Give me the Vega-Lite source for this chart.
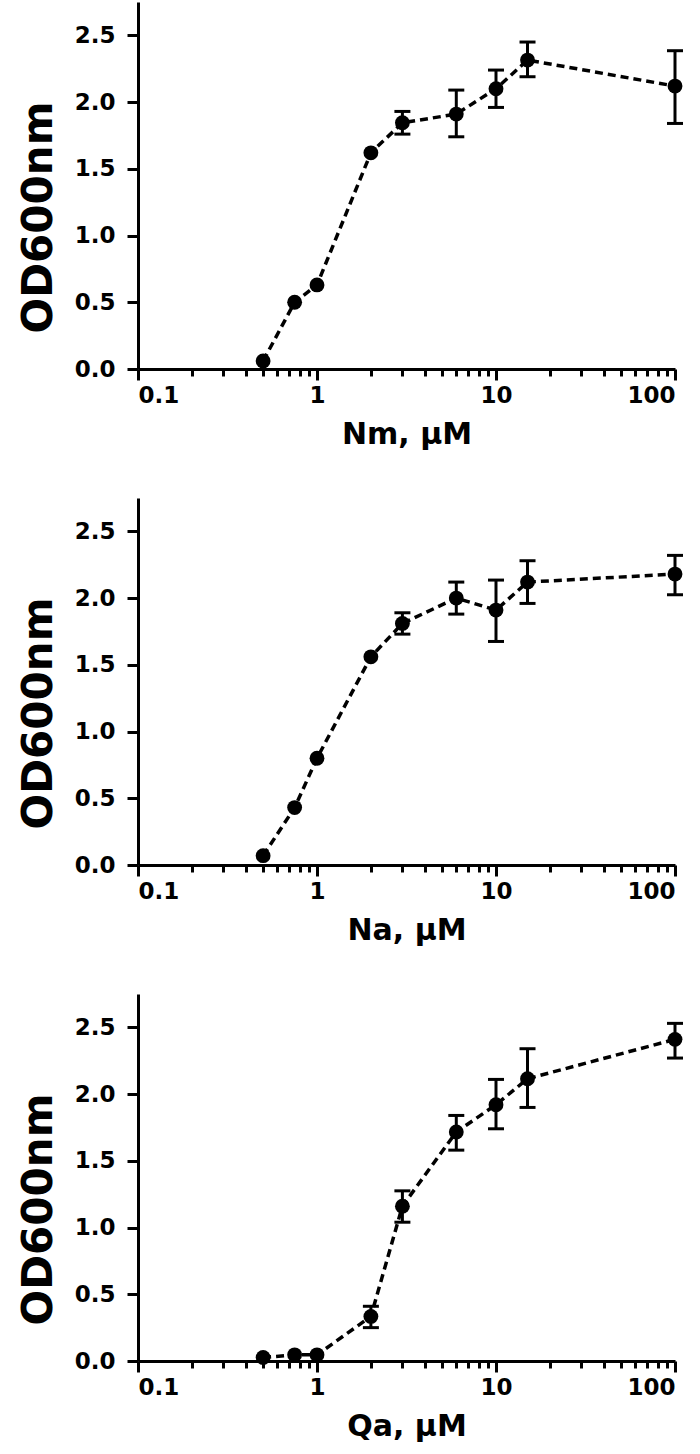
{
  "$schema": "https://vega.github.io/schema/vega-lite/v6.json",
  "padding": {"left": 17, "top": 2, "right": 20, "bottom": 5},
  "background": "white",
  "spacing": 49,
  "config": {
    "view": {"stroke": null},
    "font": "DejaVu Sans",
    "axis": {
      "domainColor": "black", "domainWidth": 3, "tickColor": "black", "tickWidth": 3,
      "labelFont": "DejaVu Sans", "labelFontWeight": "bold", "labelFontSize": 23, "labelColor": "black",
      "titleFont": "DejaVu Sans", "titleFontWeight": "bold", "titleColor": "black",
      "grid": false
    }
  },
  "datasets": {
    "d": [
      {"panel": "Nm", "conc": 0.5, "od": 0.06},
      {"panel": "Nm", "conc": 0.75, "od": 0.50},
      {"panel": "Nm", "conc": 1, "od": 0.63},
      {"panel": "Nm", "conc": 2, "od": 1.62},
      {"panel": "Nm", "conc": 3, "od": 1.845, "lo": 1.76, "hi": 1.93},
      {"panel": "Nm", "conc": 6, "od": 1.91, "lo": 1.74, "hi": 2.09},
      {"panel": "Nm", "conc": 10, "od": 2.10, "lo": 1.96, "hi": 2.24},
      {"panel": "Nm", "conc": 15, "od": 2.315, "lo": 2.19, "hi": 2.45},
      {"panel": "Nm", "conc": 100, "od": 2.12, "lo": 1.84, "hi": 2.385},
      {"panel": "Na", "conc": 0.5, "od": 0.07},
      {"panel": "Na", "conc": 0.75, "od": 0.43},
      {"panel": "Na", "conc": 1, "od": 0.80},
      {"panel": "Na", "conc": 2, "od": 1.56},
      {"panel": "Na", "conc": 3, "od": 1.81, "lo": 1.73, "hi": 1.89},
      {"panel": "Na", "conc": 6, "od": 2.00, "lo": 1.88, "hi": 2.12},
      {"panel": "Na", "conc": 10, "od": 1.91, "lo": 1.675, "hi": 2.135},
      {"panel": "Na", "conc": 15, "od": 2.12, "lo": 1.96, "hi": 2.28},
      {"panel": "Na", "conc": 100, "od": 2.18, "lo": 2.025, "hi": 2.32},
      {"panel": "Qa", "conc": 0.5, "od": 0.026},
      {"panel": "Qa", "conc": 0.75, "od": 0.046},
      {"panel": "Qa", "conc": 1, "od": 0.046},
      {"panel": "Qa", "conc": 2, "od": 0.334, "lo": 0.25, "hi": 0.41},
      {"panel": "Qa", "conc": 3, "od": 1.16, "lo": 1.04, "hi": 1.275},
      {"panel": "Qa", "conc": 6, "od": 1.716, "lo": 1.58, "hi": 1.84},
      {"panel": "Qa", "conc": 10, "od": 1.92, "lo": 1.74, "hi": 2.11},
      {"panel": "Qa", "conc": 15, "od": 2.115, "lo": 1.90, "hi": 2.34},
      {"panel": "Qa", "conc": 100, "od": 2.41, "lo": 2.27, "hi": 2.53}
    ]
  },
  "vconcat": [
    {
      "width": 537, "height": 367,
      "data": {"name": "d"},
      "transform": [{"filter": "datum.panel == 'Nm'"}],
      "encoding": {
        "x": {"field": "conc", "type": "quantitative",
          "scale": {"type": "log", "domain": [0.1, 100], "nice": false},
          "axis": {"title": "Nm, µM", "titleFontSize": 30, "titlePadding": 12, "format": "~g", "labelOverlap": false, "labelPadding": 4,
            "values": [0.1,0.2,0.3,0.4,0.5,0.6,0.7,0.8,0.9,1,2,3,4,5,6,7,8,9,10,20,30,40,50,60,70,80,90,100],
            "labelExpr": "(datum.value == 0.1 || datum.value == 1 || datum.value == 10 || datum.value == 100) ? datum.label : ''",
            "tickSize": {"condition": {"test": "datum.value == 0.1 || datum.value == 1 || datum.value == 10 || datum.value == 100", "value": 11}, "value": 7}}}
      },
      "layer": [
        {"mark": {"type": "line", "color": "black", "strokeWidth": 3.5, "strokeDash": [8, 5]},
         "encoding": {"y": {"field": "od", "type": "quantitative", "scale": {"domain": [0, 2.75], "nice": false},
           "axis": {"title": "OD600nm", "titleFontSize": 42, "titlePadding": 14, "titleY": 215, "values": [0, 0.5, 1, 1.5, 2, 2.5], "format": ".1f", "tickSize": 11, "labelPadding": 12}}}},
        {"transform": [{"filter": "isValid(datum.lo)"}],
         "mark": {"type": "rule", "color": "black", "strokeWidth": 3},
         "encoding": {"y": {"field": "lo", "type": "quantitative"}, "y2": {"field": "hi"}}},
        {"transform": [{"filter": "isValid(datum.lo)"}],
         "mark": {"type": "tick", "orient": "horizontal", "color": "black", "size": 16, "thickness": 3, "opacity": 1},
         "encoding": {"y": {"field": "lo", "type": "quantitative"}}},
        {"transform": [{"filter": "isValid(datum.lo)"}],
         "mark": {"type": "tick", "orient": "horizontal", "color": "black", "size": 16, "thickness": 3, "opacity": 1},
         "encoding": {"y": {"field": "hi", "type": "quantitative"}}},
        {"mark": {"type": "point", "filled": true, "color": "black", "size": 220, "opacity": 1},
         "encoding": {"y": {"field": "od", "type": "quantitative"}}}
      ]
    },
    {
      "width": 537, "height": 367,
      "data": {"name": "d"},
      "transform": [{"filter": "datum.panel == 'Na'"}],
      "encoding": {
        "x": {"field": "conc", "type": "quantitative",
          "scale": {"type": "log", "domain": [0.1, 100], "nice": false},
          "axis": {"title": "Na, µM", "titleFontSize": 30, "titlePadding": 12, "format": "~g", "labelOverlap": false, "labelPadding": 4,
            "values": [0.1,0.2,0.3,0.4,0.5,0.6,0.7,0.8,0.9,1,2,3,4,5,6,7,8,9,10,20,30,40,50,60,70,80,90,100],
            "labelExpr": "(datum.value == 0.1 || datum.value == 1 || datum.value == 10 || datum.value == 100) ? datum.label : ''",
            "tickSize": {"condition": {"test": "datum.value == 0.1 || datum.value == 1 || datum.value == 10 || datum.value == 100", "value": 11}, "value": 7}}}
      },
      "layer": [
        {"mark": {"type": "line", "color": "black", "strokeWidth": 3.5, "strokeDash": [8, 5]},
         "encoding": {"y": {"field": "od", "type": "quantitative", "scale": {"domain": [0, 2.75], "nice": false},
           "axis": {"title": "OD600nm", "titleFontSize": 42, "titlePadding": 14, "titleY": 215, "values": [0, 0.5, 1, 1.5, 2, 2.5], "format": ".1f", "tickSize": 11, "labelPadding": 12}}}},
        {"transform": [{"filter": "isValid(datum.lo)"}],
         "mark": {"type": "rule", "color": "black", "strokeWidth": 3},
         "encoding": {"y": {"field": "lo", "type": "quantitative"}, "y2": {"field": "hi"}}},
        {"transform": [{"filter": "isValid(datum.lo)"}],
         "mark": {"type": "tick", "orient": "horizontal", "color": "black", "size": 16, "thickness": 3, "opacity": 1},
         "encoding": {"y": {"field": "lo", "type": "quantitative"}}},
        {"transform": [{"filter": "isValid(datum.lo)"}],
         "mark": {"type": "tick", "orient": "horizontal", "color": "black", "size": 16, "thickness": 3, "opacity": 1},
         "encoding": {"y": {"field": "hi", "type": "quantitative"}}},
        {"mark": {"type": "point", "filled": true, "color": "black", "size": 220, "opacity": 1},
         "encoding": {"y": {"field": "od", "type": "quantitative"}}}
      ]
    },
    {
      "width": 537, "height": 367,
      "data": {"name": "d"},
      "transform": [{"filter": "datum.panel == 'Qa'"}],
      "encoding": {
        "x": {"field": "conc", "type": "quantitative",
          "scale": {"type": "log", "domain": [0.1, 100], "nice": false},
          "axis": {"title": "Qa, µM", "titleFontSize": 30, "titlePadding": 12, "format": "~g", "labelOverlap": false, "labelPadding": 4,
            "values": [0.1,0.2,0.3,0.4,0.5,0.6,0.7,0.8,0.9,1,2,3,4,5,6,7,8,9,10,20,30,40,50,60,70,80,90,100],
            "labelExpr": "(datum.value == 0.1 || datum.value == 1 || datum.value == 10 || datum.value == 100) ? datum.label : ''",
            "tickSize": {"condition": {"test": "datum.value == 0.1 || datum.value == 1 || datum.value == 10 || datum.value == 100", "value": 11}, "value": 7}}}
      },
      "layer": [
        {"mark": {"type": "line", "color": "black", "strokeWidth": 3.5, "strokeDash": [8, 5]},
         "encoding": {"y": {"field": "od", "type": "quantitative", "scale": {"domain": [0, 2.75], "nice": false},
           "axis": {"title": "OD600nm", "titleFontSize": 42, "titlePadding": 14, "titleY": 215, "values": [0, 0.5, 1, 1.5, 2, 2.5], "format": ".1f", "tickSize": 11, "labelPadding": 12}}}},
        {"transform": [{"filter": "isValid(datum.lo)"}],
         "mark": {"type": "rule", "color": "black", "strokeWidth": 3},
         "encoding": {"y": {"field": "lo", "type": "quantitative"}, "y2": {"field": "hi"}}},
        {"transform": [{"filter": "isValid(datum.lo)"}],
         "mark": {"type": "tick", "orient": "horizontal", "color": "black", "size": 16, "thickness": 3, "opacity": 1},
         "encoding": {"y": {"field": "lo", "type": "quantitative"}}},
        {"transform": [{"filter": "isValid(datum.lo)"}],
         "mark": {"type": "tick", "orient": "horizontal", "color": "black", "size": 16, "thickness": 3, "opacity": 1},
         "encoding": {"y": {"field": "hi", "type": "quantitative"}}},
        {"mark": {"type": "point", "filled": true, "color": "black", "size": 220, "opacity": 1},
         "encoding": {"y": {"field": "od", "type": "quantitative"}}}
      ]
    }
  ]
}
